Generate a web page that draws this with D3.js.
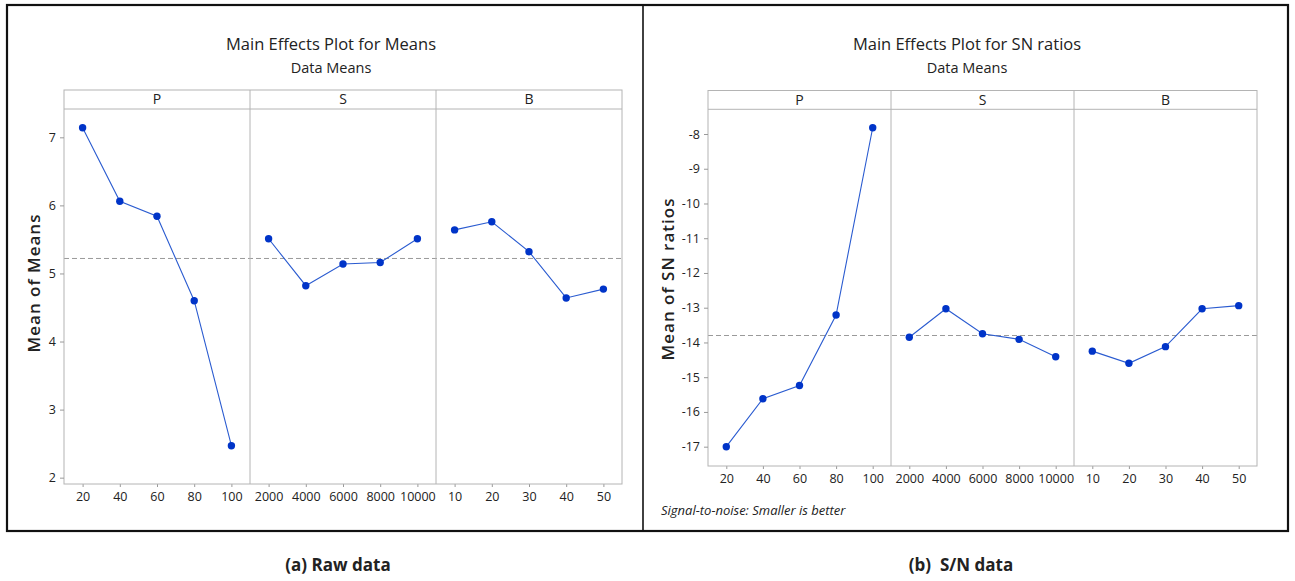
<!DOCTYPE html>
<html>
<head>
<meta charset="utf-8">
<script src="https://cdn.jsdelivr.net/npm/d3@7"></script>
<style>
  body { margin: 0; background: #fff; }
  svg text { font-family: "Open Sans", "Noto Sans", sans-serif; fill: #222; }
</style>
</head>
<body>
<div id="chart"></div>
<script>
// factor levels
var pLevels = [20, 40, 60, 80, 100]
var sLevels = [2000, 4000, 6000, 8000, 10000]
var bLevels = [10, 20, 30, 40, 50]
var factorNames = ["P", "S", "B"]

// (a) raw data means
var meansP = [7.14, 6.06, 5.84, 4.60, 2.47]
var meansS = [5.51, 4.82, 5.14, 5.16, 5.51]
var meansB = [5.64, 5.76, 5.32, 4.64, 4.77]
var meansGrand = 5.22
var meansTicks = [2, 3, 4, 5, 6, 7]

// (b) S/N ratios
var snP = [-17.00, -15.62, -15.24, -13.21, -7.82]
var snS = [-13.85, -13.03, -13.75, -13.91, -14.41]
var snB = [-14.25, -14.60, -14.12, -13.03, -12.94]
var snGrand = -13.80
var snTicks = [-17, -16, -15, -14, -13, -12, -11, -10, -9, -8]

var svg = d3.select("#chart").append("svg")
	.attr("width", 1295)
	.attr("height", 581)

// outer black boxes
svg.append("rect")
	.attr("x", 7).attr("y", 5)
	.attr("width", 1281).attr("height", 526)
	.attr("fill", "none").attr("stroke", "#111").attr("stroke-width", 2.2)
svg.append("line")
	.attr("x1", 643).attr("x2", 643).attr("y1", 5).attr("y2", 531)
	.attr("stroke", "#111").attr("stroke-width", 1.6)

function drawPanel(cfg) {

	var g = svg.append("g")
	var levels = [pLevels, sLevels, bLevels]
	var facetW = (cfg.right - cfg.left) / 3

	var y = d3.scaleLinear().domain(cfg.yDomain).range([cfg.bottom, cfg.headBottom])

	// titles
	g.append("text")
		.attr("x", cfg.cx).attr("y", 50)
		.attr("text-anchor", "middle")
		.style("font-size", "16.5px")
		.text(cfg.title)
	g.append("text")
		.attr("x", cfg.cx).attr("y", 73)
		.attr("text-anchor", "middle")
		.style("font-size", "14.5px")
		.text("Data Means")

	// mean reference line
	g.append("line")
		.attr("x1", cfg.left).attr("x2", cfg.right)
		.attr("y1", y(cfg.grand)).attr("y2", y(cfg.grand))
		.attr("stroke", "#9a9a9a").attr("stroke-dasharray", "5,3")

	factorNames.forEach(function(name, i) {
		var x0 = cfg.left + i * facetW
		var x = d3.scalePoint().domain(levels[i]).range([x0, x0 + facetW]).padding(0.5)

		// header strip
		g.append("text")
			.attr("x", x0 + facetW / 2).attr("y", cfg.headTop + (cfg.headBottom - cfg.headTop) / 2)
			.attr("dy", "0.35em")
			.attr("text-anchor", "middle")
			.style("font-size", "14px")
			.attr("fill", "#111")
			.text(name)

		if (i > 0) {
			g.append("line")
				.attr("x1", x0).attr("x2", x0)
				.attr("y1", cfg.headTop).attr("y2", cfg.bottom)
				.attr("stroke", "#b4b4b4")
		}

		var xAxis = g.append("g")
			.attr("transform", "translate(0," + cfg.bottom + ")")
			.call(d3.axisBottom(x).tickSize(3).tickPadding(5).tickFormat(function(d) {return String(d)}))
		xAxis.select(".domain").remove()
		xAxis.selectAll("line").attr("stroke", "#999")
		xAxis.selectAll("text").style("font-size", "12.5px").attr("fill", "#222")

		var pts = d3.zip(levels[i], cfg.series[i])

		g.append("path")
			.datum(pts)
			.attr("fill", "none")
			.attr("stroke", "#2a5bd0")
			.attr("stroke-width", 1.1)
			.attr("d", d3.line()
				.x(function(d) {return x(d[0])})
				.y(function(d) {return y(d[1])}))

		g.selectAll(".pt" + i)
			.data(pts)
			.enter()
			.append("circle")
			.attr("class", "pt" + i)
			.attr("cx", function(d) {return x(d[0])})
			.attr("cy", function(d) {return y(d[1])})
			.attr("r", 3.7)
			.attr("fill", "#0034c8")
	})

	// frame
	g.append("rect")
		.attr("x", cfg.left).attr("y", cfg.headTop)
		.attr("width", cfg.right - cfg.left).attr("height", cfg.bottom - cfg.headTop)
		.attr("fill", "none").attr("stroke", "#b4b4b4")
	g.append("line")
		.attr("x1", cfg.left).attr("x2", cfg.right)
		.attr("y1", cfg.headBottom).attr("y2", cfg.headBottom)
		.attr("stroke", "#b4b4b4")

	var yAxis = g.append("g")
		.attr("transform", "translate(" + cfg.left + ",0)")
		.call(d3.axisLeft(y).tickValues(cfg.ticks).tickSize(4).tickPadding(4)
			.tickFormat(function(d) {return String(d)}))
	yAxis.select(".domain").remove()
	yAxis.selectAll("line").attr("stroke", "#999")
	yAxis.selectAll("text").style("font-size", "12.5px").attr("fill", "#222")

	g.append("text")
		.attr("transform", "translate(" + cfg.labelX + "," + cfg.labelY + ") rotate(-90)")
		.attr("text-anchor", "middle")
		.attr("dy", "0.35em")
		.style("font-size", "17px")
		.style("font-weight", "600")
		.style("letter-spacing", "1px")
		.attr("fill", "#111")
		.text(cfg.ylabel)
}

drawPanel({
	left: 64, right: 622, headTop: 90, headBottom: 109, bottom: 484,
	cx: 331, yDomain: [1.907, 7.416], ticks: meansTicks,
	series: [meansP, meansS, meansB], grand: meansGrand,
	title: "Main Effects Plot for Means", ylabel: "Mean of Means", labelX: 34, labelY: 283
})

drawPanel({
	left: 708, right: 1257, headTop: 90.5, headBottom: 109.3, bottom: 466,
	cx: 967, yDomain: [-17.556, -7.289], ticks: snTicks,
	series: [snP, snS, snB], grand: snGrand,
	title: "Main Effects Plot for SN ratios", ylabel: "Mean of SN ratios", labelX: 668, labelY: 279
})

svg.append("text")
	.attr("x", 661).attr("y", 515)
	.style("font-size", "13px")
	.style("font-style", "italic")
	.text("Signal-to-noise: Smaller is better")

// captions
svg.append("text")
	.attr("x", 338).attr("y", 571)
	.attr("text-anchor", "middle")
	.style("font-size", "17px").style("font-weight", "bold")
	.attr("fill", "#111")
	.text("(a) Raw data")
svg.append("text")
	.attr("x", 961).attr("y", 571)
	.attr("text-anchor", "middle")
	.style("font-size", "17px").style("font-weight", "bold")
	.style("white-space", "pre")
	.attr("fill", "#111")
	.text("(b)  S/N data")
</script>
</body>
</html>
